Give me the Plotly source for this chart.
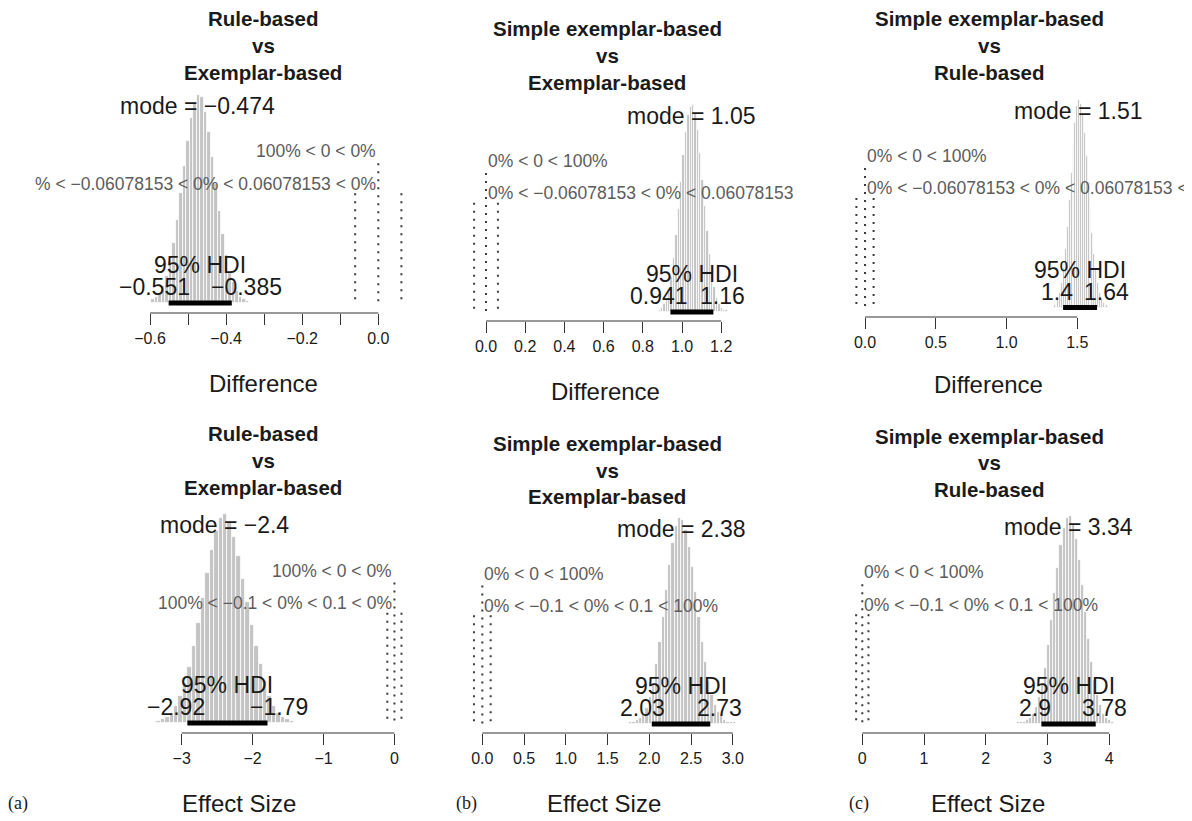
import plotly.graph_objects as go

# page body has an 8px margin; the figure fills the rest of the 1192x821 window
OFF = 8
FW, FH = 1192 - OFF, 821 - OFF

# ---------------- data ----------------
TITLE_TOP = ["Rule-based", "Simple exemplar-based", "Simple exemplar-based",
             "Rule-based", "Simple exemplar-based", "Simple exemplar-based"]
TITLE_MID = ["vs"] * 6
TITLE_BOTTOM = ["Exemplar-based", "Exemplar-based", "Rule-based",
                "Exemplar-based", "Exemplar-based", "Rule-based"]
X_LABELS = ["Difference"] * 3 + ["Effect Size"] * 3
PANEL_TAGS = ["(a)", "(b)", "(c)"]

MODES = [-0.474, 1.05, 1.51, -2.4, 2.38, 3.34]
HDI_LO = [-0.551, 0.941, 1.4, -2.92, 2.03, 2.9]
HDI_HI = [-0.385, 1.16, 1.64, -1.79, 2.73, 3.78]
CRED_MASS = 95
COMP_VAL = [0, 0, 0, 0, 0, 0]
P_LT_COMP = [100, 0, 0, 100, 0, 0]
ROPE_LO = [-0.06078153, -0.06078153, -0.06078153, -0.1, -0.1, -0.1]
ROPE_HI = [0.06078153, 0.06078153, 0.06078153, 0.1, 0.1, 0.1]
P_LT_ROPE = [100, 0, 0, 100, 0, 0]
P_IN_ROPE = [0, 0, 0, 0, 0, 0]
P_GT_ROPE = [0, 100, 100, 0, 100, 100]

# histogram bins (first edge, width) and bar heights (relative density)
HIST_START = [-0.5971, 0.8802, 1.3333, -3.3595, 1.7578, 2.5089]
BIN_WIDTH = [0.009222, 0.012167, 0.013333, 0.062778, 0.038889, 0.048889]
HIST_1 = [2, 3, 5, 8, 13, 20, 29, 40, 53, 66, 78, 89, 96, 100, 99, 92, 82, 70,
          57, 44, 33, 23, 15, 10, 6, 3, 2, 1]
HIST_2 = [1, 2, 4, 7, 11, 17, 26, 37, 50, 63, 76, 87, 95, 99, 100, 96, 88, 77,
          64, 51, 39, 28, 19, 12, 7, 4, 2, 1, 1]
HIST_3 = [1, 2, 4, 7, 12, 19, 28, 39, 52, 65, 78, 89, 97, 100, 98, 93, 84, 73,
          60, 48, 36, 26, 18, 12, 7, 4, 2, 1, 1]
HIST_4 = [1, 2, 3, 5, 8, 13, 19, 27, 37, 48, 60, 72, 83, 92, 98, 100, 96, 89,
          80, 69, 58, 47, 37, 28, 20, 13, 8, 5, 3, 2, 1]
HIST_5 = [1, 1, 2, 3, 5, 8, 13, 20, 29, 40, 52, 65, 77, 88, 96, 100, 99, 94,
          86, 76, 64, 52, 40, 30, 21, 14, 9, 6, 4, 2, 1, 1, 1]
HIST_6 = [1, 1, 1, 2, 3, 5, 8, 13, 19, 27, 38, 50, 63, 75, 86, 94, 99, 100,
          96, 89, 79, 67, 54, 41, 30, 21, 14, 9, 5, 3, 2, 1]
HISTS = [HIST_1, HIST_2, HIST_3, HIST_4, HIST_5, HIST_6]

TICK_VALS = [
    [-0.6, -0.5, -0.4, -0.3, -0.2, -0.1, 0.0],
    [0.0, 0.2, 0.4, 0.6, 0.8, 1.0, 1.2],
    [0.0, 0.5, 1.0, 1.5],
    [-3, -2, -1, 0],
    [0.0, 0.5, 1.0, 1.5, 2.0, 2.5, 3.0],
    [0, 1, 2, 3, 4],
]
TICK_TEXT = [
    ["−0.6", "", "−0.4", "", "−0.2", "", "0.0"],
    ["0.0", "0.2", "0.4", "0.6", "0.8", "1.0", "1.2"],
    ["0.0", "0.5", "1.0", "1.5"],
    ["−3", "−2", "−1", "0"],
    ["0.0", "0.5", "1.0", "1.5", "2.0", "2.5", "3.0"],
    ["0", "1", "2", "3", "4"],
]

# ---------------- geometry / style (window pixels) ----------------
GEOM = [
    dict(V0=-0.6, P0=150.0, S=380.5, d0=120, d1=420, top=85, axis=313, base=303, peak=95,
         tx=263, ty=[18, 45, 72], lx=263, ly=383),
    dict(V0=0.0, P0=486.0, S=196.0, d0=465, d1=790, top=95, axis=321, base=312, peak=105,
         tx=607, ty=[29, 56, 83], lx=605, ly=391),
    dict(V0=0.0, P0=865.0, S=141.5, d0=850, d1=1190, top=90, axis=317, base=307.5, peak=100,
         tx=989, ty=[18, 45, 72], lx=988, ly=385),
    dict(V0=-3.0, P0=181.7, S=70.9, d0=140, d1=420, top=505, axis=733, base=723, peak=514,
         tx=263, ty=[433, 460, 487], lx=239, ly=803),
    dict(V0=0.0, P0=482.3, S=83.5, d0=465, d1=790, top=510, axis=733, base=724, peak=518,
         tx=607, ty=[444, 471, 497], lx=604, ly=803),
    dict(V0=0.0, P0=862.3, S=61.75, d0=845, d1=1190, top=505, axis=733, base=724, peak=516,
         tx=989, ty=[436, 462, 489], lx=988, ly=803),
]
TAG_POS = [(18, 803), (466, 803), (859, 803)]
ROPE_SLICE = [(3, None), (0, -7), (0, -5), (0, None), (0, None), (0, None)]

FONT = "Liberation Sans, Arial, Helvetica, sans-serif"
SERIF = "Liberation Serif, Times New Roman, serif"
BAR_COL = "#c4c4c4"
DOT_COL = "#3a3a3a"
CV_TEXT = "#5c5c5c"
INK = "#1a1a1a"
BIG = 23
SMALL = 17.5

CHAR_W = {"−": 0.584, "-": 0.584, ".": 0.278}


def PX(x):
    return (x - OFF) / FW


def PY(y):
    return 1 - (y - OFF) / FH


def num(v):
    return f"{v:g}".replace("-", "−")


def text_w(s, size):
    return sum(CHAR_W.get(c, 0.556) for c in s) * size


fig = go.Figure()
shapes = []
annotations = []

for i in range(6):
    g = GEOM[i]
    hist = HISTS[i]
    w = BIN_WIDTH[i]
    H = max(hist)
    sfx = "" if i == 0 else str(i + 1)
    xr, yr = "x" + sfx, "y" + sfx

    centers = [HIST_START[i] + (k + 0.5) * w for k in range(len(hist))]
    fig.add_trace(go.Bar(x=centers, y=hist, width=w, xaxis=xr, yaxis=yr,
                         marker=dict(color=BAR_COL, line=dict(color="white", width=0.8)),
                         hoverinfo="skip"))
    # HDI bar
    fig.add_trace(go.Scatter(x=[HDI_LO[i], HDI_HI[i]], y=[0, 0], mode="lines", xaxis=xr, yaxis=yr,
                             line=dict(color="black", width=5), hoverinfo="skip"))
    # comparison value line
    cvHt = 0.7 * H
    fig.add_trace(go.Scatter(x=[COMP_VAL[i], COMP_VAL[i]], y=[0.96 * cvHt, 0], mode="lines",
                             xaxis=xr, yaxis=yr, hoverinfo="skip",
                             line=dict(color=DOT_COL, width=2, dash="2px,6px")))
    # ROPE lines
    ropeHt = 0.55 * H
    for rv in (ROPE_LO[i], ROPE_HI[i]):
        fig.add_trace(go.Scatter(x=[rv, rv], y=[0.96 * ropeHt, 0], mode="lines",
                                 xaxis=xr, yaxis=yr, hoverinfo="skip",
                                 line=dict(color=DOT_COL, width=2, dash="2px,6px")))

    # axes
    xrange = [g["V0"] + (g["d0"] - g["P0"]) / g["S"], g["V0"] + (g["d1"] - g["P0"]) / g["S"]]
    sc = (g["base"] - g["peak"]) / H
    yrange = [-(g["axis"] - g["base"]) / sc, (g["base"] - g["top"]) / sc]
    fig.layout["xaxis" + sfx] = dict(
        domain=[PX(g["d0"]), PX(g["d1"])], range=xrange, anchor=yr,
        tickvals=TICK_VALS[i], ticktext=TICK_TEXT[i], ticks="outside", ticklen=11,
        tickwidth=1, tickcolor="#333", showline=False, showgrid=False, zeroline=False,
        tickfont=dict(family=FONT, size=16, color=INK), fixedrange=True)
    fig.layout["yaxis" + sfx] = dict(
        domain=[PY(g["axis"]), PY(g["top"])], range=yrange, anchor=xr,
        visible=False, fixedrange=True)

    # axis line from first to last tick
    def to_px(v):
        return g["P0"] + (v - g["V0"]) * g["S"]
    shapes.append(dict(type="line", xref="paper", yref="paper",
                       x0=PX(to_px(TICK_VALS[i][0])), x1=PX(to_px(TICK_VALS[i][-1])),
                       y0=PY(g["axis"]), y1=PY(g["axis"]),
                       line=dict(color="#333", width=1)))

    # texts in data coords
    annotations.append(dict(xref=xr, yref=yr, x=MODES[i], y=0.9 * H, yshift=10,
                            text=f"mode = {num(MODES[i])}", showarrow=False,
                            xanchor="center", yanchor="middle",
                            font=dict(family=FONT, size=BIG, color=INK)))
    annotations.append(dict(xref=xr, yref=yr, x=(HDI_LO[i] + HDI_HI[i]) / 2, y=0, yshift=38,
                            text=f"{CRED_MASS}% HDI", showarrow=False,
                            xanchor="center", yanchor="middle",
                            font=dict(family=FONT, size=BIG, color=INK)))
    lo_t, hi_t = num(HDI_LO[i]), num(HDI_HI[i])
    annotations.append(dict(xref=xr, yref=yr, x=HDI_LO[i], y=0, yshift=16,
                            xshift=-0.2 * text_w(lo_t, BIG),
                            text=lo_t, showarrow=False, xanchor="center", yanchor="middle",
                            font=dict(family=FONT, size=BIG, color=INK)))
    annotations.append(dict(xref=xr, yref=yr, x=HDI_HI[i], y=0, yshift=16,
                            xshift=0.2 * text_w(hi_t, BIG),
                            text=hi_t, showarrow=False, xanchor="center", yanchor="middle",
                            font=dict(family=FONT, size=BIG, color=INK)))
    cv_text = f"{P_LT_COMP[i]}% < {num(COMP_VAL[i])} < {100 - P_LT_COMP[i]}%"
    annotations.append(dict(xref=xr, yref=yr, x=COMP_VAL[i], y=cvHt, yshift=6,
                            text=cv_text, showarrow=False,
                            xanchor="right" if P_LT_COMP[i] == 100 else "left",
                            yanchor="middle", font=dict(family=FONT, size=SMALL, color=CV_TEXT)))
    rope_full = (f"{P_LT_ROPE[i]}% < {str(ROPE_LO[i]).replace('-', '−')} < {P_IN_ROPE[i]}% < "
                 f"{str(ROPE_HI[i])} < {P_GT_ROPE[i]}%")
    a, b = ROPE_SLICE[i]
    rope_text = rope_full[a:b]
    adj = (P_LT_ROPE[i] + 0.5 * P_IN_ROPE[i]) / 100
    annotations.append(dict(xref=xr, yref=yr, x=(ROPE_LO[i] + ROPE_HI[i]) / 2, y=ropeHt, yshift=5,
                            text=rope_text, showarrow=False,
                            xanchor="right" if adj >= 0.5 else "left",
                            yanchor="middle", font=dict(family=FONT, size=SMALL, color=CV_TEXT)))

    # titles and axis label (paper coords)
    for line, yy in zip([TITLE_TOP[i], TITLE_MID[i], TITLE_BOTTOM[i]], g["ty"]):
        annotations.append(dict(xref="paper", yref="paper", x=PX(g["tx"]), y=PY(yy),
                                text=f"<b>{line}</b>", showarrow=False, xanchor="center",
                                yanchor="middle", font=dict(family=FONT, size=20.5, color=INK)))
    annotations.append(dict(xref="paper", yref="paper", x=PX(g["lx"]), y=PY(g["ly"]),
                            text=X_LABELS[i], showarrow=False, xanchor="center",
                            yanchor="middle", font=dict(family=FONT, size=24, color=INK)))

for tag, (tx, ty) in zip(PANEL_TAGS, TAG_POS):
    annotations.append(dict(xref="paper", yref="paper", x=PX(tx), y=PY(ty), text=tag,
                            showarrow=False, xanchor="center", yanchor="middle",
                            font=dict(family=SERIF, size=18, color=INK)))

fig.update_layout(width=FW, height=FH, margin=dict(l=0, r=0, t=0, b=0),
                  paper_bgcolor="white", plot_bgcolor="white", showlegend=False,
                  bargap=0, shapes=shapes, annotations=annotations)

fig.write_html("out.html")
